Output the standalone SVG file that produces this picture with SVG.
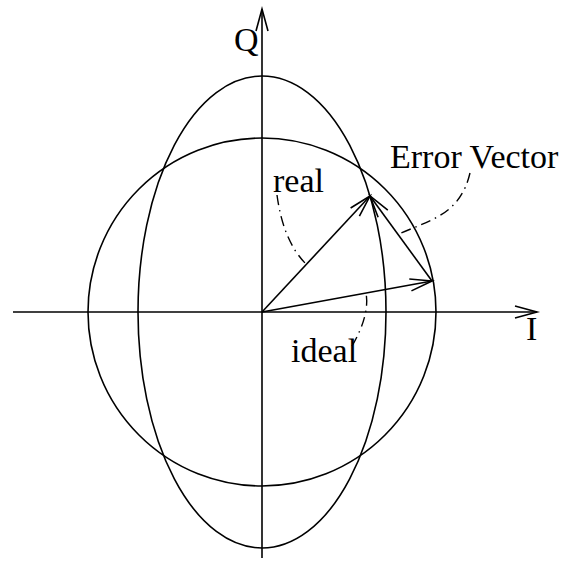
<svg xmlns="http://www.w3.org/2000/svg" width="572" height="561" viewBox="0 0 572 561">
<defs>
<style>
.ln{fill:none;stroke:#000;stroke-width:1.6}
.dd{fill:none;stroke:#000;stroke-width:1.4;stroke-dasharray:10 5 1.5 5}
.tx{font-family:"Liberation Serif","Times New Roman",serif;font-size:34px;fill:#000}
</style>
<marker id="ah" markerUnits="userSpaceOnUse" viewBox="-24 -8 26 16" refX="0" refY="0" markerWidth="26" markerHeight="16" orient="auto" overflow="visible">
<path d="M -22 -6 L 0 0 L -22 6" fill="none" stroke="#000" stroke-width="1.6"/>
</marker>
</defs>
<rect width="572" height="561" fill="#fff"/>
<g id="circle"><circle class="ln" cx="262" cy="312" r="174"/></g>
<g id="ellipse"><ellipse class="ln" cx="262" cy="312" rx="124" ry="236"/></g>
<g id="connectors">
<line id="i-axis" class="ln" x1="13" y1="312" x2="537" y2="312" marker-end="url(#ah)"/>
<line id="q-axis" class="ln" x1="262" y1="558" x2="262" y2="9" marker-end="url(#ah)"/>
<line id="ideal-vec" class="ln" x1="262" y1="312" x2="432" y2="281" marker-end="url(#ah)"/>
<line id="real-vec" class="ln" x1="262" y1="312" x2="370" y2="196" marker-end="url(#ah)"/>
<line id="err-vec" class="ln" x1="432" y1="281" x2="370" y2="196" marker-end="url(#ah)"/>
<path id="real-leader" class="dd" d="M 277 195 Q 283 240 305 263"/>
<path id="ideal-leader" class="dd" d="M 352 346 Q 370 315 366 293"/>
<path id="err-leader" class="dd" d="M 470 173 C 460 215 430 220 399 234"/>
</g>
<g id="label-q"><text class="tx" x="234" y="51">Q</text></g>
<g id="label-i"><text class="tx" x="526" y="340">I</text></g>
<g id="label-real"><text class="tx" x="273" y="192">real</text></g>
<g id="label-ideal"><text class="tx" x="291" y="362">ideal</text></g>
<g id="label-error"><text class="tx" x="390" y="168">Error Vector</text></g>
</svg>
